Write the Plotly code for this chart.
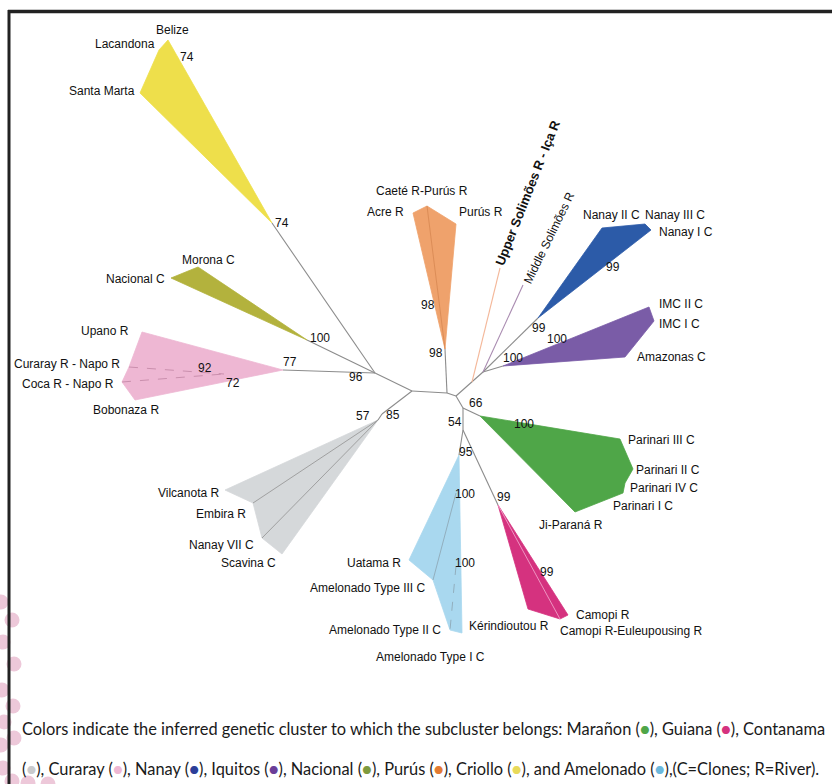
import plotly.graph_objects as go

# ---------------- data: tree layout (pixel space of the figure) ----------------
node_names = ["A", "B", "C", "D", "E", "N96", "N85", "Nnan",
              "t_yel", "t_nac", "t_pink", "t_orange", "t_blue", "t_purple",
              "t_green", "t_lblue", "t_mag", "t_gray",
              "up_start", "up_end", "mid_end"]
node_x = [412, 447, 456, 463, 463, 375, 382, 483,
          272, 307, 283, 445, 538, 503,
          480, 459, 498, 378,
          472, 500, 523]
node_y = [391, 393, 396, 408, 430, 373, 414, 372,
          223, 340, 370, 349, 318, 366,
          416, 455, 505, 420,
          382, 268, 285]

edges = [("A", "B"), ("B", "C"), ("C", "D"), ("A", "N96"), ("A", "N85"),
         ("B", "t_orange"), ("C", "Nnan"), ("Nnan", "t_blue"), ("Nnan", "t_purple"),
         ("D", "t_green"), ("D", "E"), ("E", "t_lblue"), ("E", "t_mag"),
         ("N96", "t_yel"), ("N96", "t_nac"), ("N96", "t_pink"), ("N85", "t_gray")]

# cluster polygons: tip node, then leaf vertices
cluster_names = ["Criollo", "Nacional", "Curaray", "Purus", "Nanay", "Iquitos",
                 "Maranon", "Guiana", "Amelonado", "Contanama"]
cluster_colors = ["#EEDF4B", "#B3B23D", "#EEB7D3", "#EFA26C", "#2C5BA8", "#7A5CA7",
                  "#4FA648", "#D5327F", "#A9D8EF", "#D5D8DA"]
cluster_tips = ["t_yel", "t_nac", "t_pink", "t_orange", "t_blue", "t_purple",
                "t_green", "t_mag", "t_lblue", "t_gray"]
cluster_vx = [[140, 159, 168],
              [171, 198],
              [142, 129, 122, 135],
              [413, 427, 456],
              [602, 645, 651],
              [649, 654, 625],
              [620, 633, 625, 623, 575],
              [528, 560, 568],
              [409, 433, 450, 462],
              [225, 253, 262, 282]]
cluster_vy = [[93, 50, 40],
              [278, 267],
              [332, 367, 382, 400],
              [213, 206, 224],
              [228, 224, 230],
              [307, 321, 357],
              [439, 469, 483, 493, 512],
              [609, 619, 615],
              [560, 580, 630, 633],
              [490, 503, 538, 554]]

# internal sub-branches inside clusters (x0, y0, x1, y1, dashed)
inner_x0 = [378, 378, 456, 456, 445, 498, 129, 122]
inner_y0 = [420, 420, 493, 566, 349, 505, 367, 382]
inner_x1 = [253, 262, 433, 450, 427, 560, 224, 224]
inner_y1 = [503, 538, 580, 630, 206, 619, 374, 374]
inner_dash = [False, False, False, True, False, False, True, True]
inner_col = ["#9a9a9a", "#9a9a9a", "#8fa9b8", "#8fa9b8", "#d98a55", "#f0a0c8", "#c58aa8", "#c58aa8"]

# taxa labels
leaf_labels = ["Belize", "Lacandona", "Santa Marta", "Morona C", "Nacional C",
               "Upano R", "Curaray R - Napo R", "Coca R - Napo R", "Bobonaza R",
               "Caeté R-Purús R", "Acre R", "Purús R",
               "Nanay II C", "Nanay III C", "Nanay I C",
               "IMC II C", "IMC I C", "Amazonas C",
               "Parinari III C", "Parinari II C", "Parinari IV C", "Parinari I C", "Ji-Paraná R",
               "Camopi R", "Camopi R-Euleupousing R", "Kérindioutou R",
               "Uatama R", "Amelonado Type III C", "Amelonado Type II C", "Amelonado Type I C",
               "Vilcanota R", "Embira R", "Nanay VII C", "Scavina C"]
leaf_lx = [172, 157, 137, 180, 167,
           131, 122, 116, 126,
           422, 406, 457,
           581, 643, 657,
           657, 657, 635,
           626, 634, 628, 611, 537,
           574, 558, 467,
           403, 428, 443, 430,
           221, 248, 256, 278]
leaf_ly = [30, 44, 91, 260, 279,
           331, 364, 384, 410,
           191, 212, 212,
           215, 215, 232,
           304, 324, 357,
           440, 470, 488, 506, 525,
           615, 631, 626,
           563, 588, 630, 657,
           493, 514, 545, 563]
leaf_anchor = ["center", "right", "right", "left", "right",
               "right", "right", "right", "center",
               "center", "right", "left",
               "left", "left", "left",
               "left", "left", "left",
               "left", "left", "left", "left", "left",
               "left", "left", "left",
               "right", "right", "right", "center",
               "right", "right", "right", "right"]

# bootstrap support values
boot_vals = ["74", "74", "100", "77", "92", "72", "96", "57", "85", "98", "98",
             "99", "100", "100", "99", "66", "54", "100", "95", "100", "100", "99", "99"]
boot_x = [187, 282, 320, 290, 205, 233, 356, 363, 393, 428, 436,
          539, 557, 513, 613, 476, 455, 524, 466, 465, 465, 504, 547]
boot_y = [57, 223, 338, 362, 368, 383, 377, 416, 415, 305, 353,
          328, 339, 358, 267, 403, 422, 424, 452, 494, 563, 497, 572]

solimoes_labels = ["<b>Upper Solimões R - Iça R</b>", "Middle Solimões R"]
solimoes_x = [527, 549]
solimoes_y = [193, 238]
solimoes_angle = [-68.5, -64]
solimoes_colors = ["#F4B89A", "#A98BB0"]

caption_clusters = ["Marañon", "Guiana", "Contanama", "Curaray", "Nanay", "Iquitos",
                    "Nacional", "Purús", "Criollo", "Amelonado"]
caption_colors = ["#4FA648", "#D5327F", "#C9CACC", "#EEB7D3", "#2C3E98", "#6B3E98",
                  "#7E9A3E", "#E37B32", "#E8DA5A", "#6CB8DC"]

deco_x = [1, 12, 3, 14, 2, 13, 4, 1, 14, 3, 12, 28, 48]
deco_y = [602, 620, 642, 664, 690, 706, 722, 745, 738, 768, 781, 783, 784]

# ---------------- figure ----------------
pos = {n: (x, y) for n, x, y in zip(node_names, node_x, node_y)}
fig = go.Figure()

# cluster polygons
for name, col, tip, vx, vy in zip(cluster_names, cluster_colors, cluster_tips, cluster_vx, cluster_vy):
    tx, ty = pos[tip]
    fig.add_trace(go.Scatter(x=[tx] + vx + [tx], y=[ty] + vy + [ty], fill="toself",
                             fillcolor=col, mode="lines",
                             line=dict(color=col, width=0.8), hoverinfo="skip",
                             showlegend=False, name=name))

# inner branches
for x0, y0, x1, y1, d, c in zip(inner_x0, inner_y0, inner_x1, inner_y1, inner_dash, inner_col):
    fig.add_trace(go.Scatter(x=[x0, x1], y=[y0, y1], mode="lines",
                             line=dict(color=c, width=0.9, dash="dash" if d else "solid"),
                             hoverinfo="skip", showlegend=False))

# backbone edges
ex, ey = [], []
for a, b in edges:
    ex += [pos[a][0], pos[b][0], None]
    ey += [pos[a][1], pos[b][1], None]
fig.add_trace(go.Scatter(x=ex, y=ey, mode="lines", line=dict(color="#8c8c8c", width=1.1),
                         hoverinfo="skip", showlegend=False))

# Solimões single branches
fig.add_trace(go.Scatter(x=[pos["up_start"][0], pos["up_end"][0]],
                         y=[pos["up_start"][1], pos["up_end"][1]], mode="lines",
                         line=dict(color=solimoes_colors[0], width=1.1), hoverinfo="skip",
                         showlegend=False))
fig.add_trace(go.Scatter(x=[pos["Nnan"][0], pos["mid_end"][0]],
                         y=[pos["Nnan"][1], pos["mid_end"][1]], mode="lines",
                         line=dict(color=solimoes_colors[1], width=1.1), hoverinfo="skip",
                         showlegend=False))

# decorative pink blobs at the left edge
fig.add_trace(go.Scatter(x=deco_x, y=deco_y, mode="markers",
                         marker=dict(color="#EDC8D9", size=15, line=dict(width=0)),
                         hoverinfo="skip", showlegend=False, cliponaxis=True))

font_lbl = dict(family="Liberation Sans, Arial, sans-serif", size=12, color="#111111")

for t, x, y, a in zip(leaf_labels, leaf_lx, leaf_ly, leaf_anchor):
    fig.add_annotation(x=x, y=y, text=t, showarrow=False, xanchor=a, yanchor="middle",
                       font=font_lbl)

for t, x, y in zip(boot_vals, boot_x, boot_y):
    fig.add_annotation(x=x, y=y, text=t, showarrow=False, xanchor="center", yanchor="middle",
                       font=font_lbl)

for t, x, y, ang in zip(solimoes_labels, solimoes_x, solimoes_y, solimoes_angle):
    fig.add_annotation(x=x, y=y, text=t, showarrow=False, textangle=ang,
                       xanchor="center", yanchor="middle",
                       font=dict(family="Liberation Sans, Arial, sans-serif",
                                 size=13 if "Upper" in t else 12, color="#111111"))

def dot(c):
    return f'(<span style="color:{c}">●</span>)'

cc = dict(zip(caption_clusters, caption_colors))
line1 = ("Colors indicate the inferred genetic cluster to which the subcluster belongs: "
         f"Marañon {dot(cc['Marañon'])}, Guiana {dot(cc['Guiana'])}, Contanama")
line2 = (f"{dot(cc['Contanama'])}, Curaray {dot(cc['Curaray'])}, Nanay {dot(cc['Nanay'])}, "
         f"Iquitos {dot(cc['Iquitos'])}, Nacional {dot(cc['Nacional'])}, Purús {dot(cc['Purús'])}, "
         f"Criollo {dot(cc['Criollo'])}, and Amelonado {dot(cc['Amelonado'])},(C=Clones; R=River).")
cap_font = dict(family="Lato, Open Sans, sans-serif", size=16.4, color="#1a1a1a")
fig.add_annotation(x=20, y=728, text=line1, showarrow=False, xanchor="left", yanchor="middle",
                   font=cap_font)
fig.add_annotation(x=20, y=768, text=line2, showarrow=False, xanchor="left", yanchor="middle",
                   font=cap_font)

# frame
fig.add_shape(type="line", x0=8, x1=832, y0=11.5, y1=11.5, line=dict(color="#222222", width=3.5))
fig.add_shape(type="line", x0=9, x1=9, y0=10, y1=784, line=dict(color="#222222", width=3))

fig.update_layout(width=832, height=784, margin=dict(l=0, r=0, t=0, b=0),
                  paper_bgcolor="white", plot_bgcolor="white", showlegend=False,
                  xaxis=dict(range=[0, 832], visible=False, fixedrange=True),
                  yaxis=dict(range=[784, 0], visible=False, fixedrange=True))

fig.write_html("out.html")
